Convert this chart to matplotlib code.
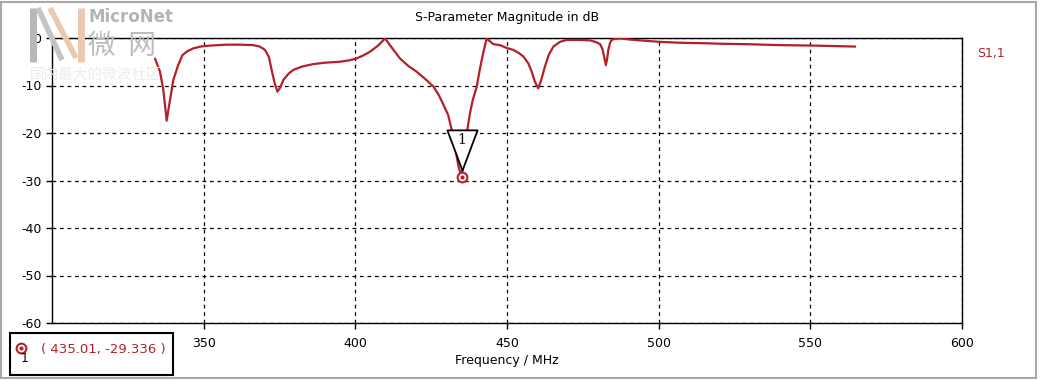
import matplotlib
matplotlib.use("Agg")
import matplotlib.pyplot as plt
import matplotlib.transforms as mtransforms
from matplotlib.path import Path
from matplotlib.patches import Rectangle
from matplotlib.lines import Line2D

# S1,1 magnitude (MHz, dB)
freq = [334.0, 335.6, 336.7, 337.8, 338.9, 340.0, 341.6, 343.0, 344.6, 346.5,
        349.0, 352.0, 357.6, 362.0, 366.3, 368.5, 370.2, 371.5, 372.4, 373.4,
        374.3, 375.2, 376.3, 378.0, 379.6, 382.5, 386.1, 390.0, 394.9, 398.0,
        400.4, 402.5, 404.8, 407.5, 409.8, 412.0, 414.7, 417.5, 420.2, 423.0,
        425.7, 427.5, 429.0, 430.6, 431.8, 433.0, 434.0, 435.01, 435.8, 436.9,
        437.8, 438.7, 440.0, 441.1, 442.2, 443.3, 445.5, 447.7, 449.9, 452.1,
        454.0, 455.4, 457.0, 458.1, 459.2, 460.3, 461.3, 462.5, 463.8, 465.3,
        467.5, 469.7, 474.0, 477.4, 479.5, 480.7, 481.5, 482.0, 482.6, 483.0,
        483.4, 484.0, 484.5, 485.5, 487.2, 490.0, 496.0, 500.0, 507.0, 515.0,
        520.0, 529.0, 540.0, 551.0, 558.0, 564.7]
s11 = [-4.4, -7.1, -10.9, -17.4, -13.1, -8.8, -5.7, -3.6, -2.8, -2.2,
       -1.8, -1.6, -1.4, -1.4, -1.5, -1.8, -2.5, -4.0, -6.7, -9.5,
       -11.3, -10.5, -8.8, -7.5, -6.7, -6.0, -5.5, -5.2, -5.0, -4.7,
       -4.3, -3.7, -2.9, -1.6, -0.1, -2.0, -4.3, -5.9, -7.1, -8.6,
       -10.2, -12.0, -14.0, -16.2, -19.4, -23.5, -27.0, -29.336, -25.5, -19.4,
       -15.8, -13.1, -10.3, -6.4, -3.0, -0.1, -1.3, -1.5, -2.1, -2.5,
       -3.2, -3.9, -5.3, -7.0, -9.2, -10.6, -8.8, -6.0, -3.5, -1.8,
       -0.8, -0.4, -0.4, -0.5, -0.9, -1.3, -2.4, -3.9, -5.7, -4.4,
       -2.5, -1.0, -0.4, -0.2, -0.1, -0.3, -0.6, -0.8, -1.0, -1.1,
       -1.2, -1.3, -1.5, -1.6, -1.7, -1.8]

marker_f, marker_db = 435.01, -29.336
xticks = [350, 400, 450, 500, 550, 600]
yticks = [0, -10, -20, -30, -40, -50, -60]

red = '#b3202a'
W, H = 1041, 380

fig = plt.figure(figsize=(W / 100, H / 100), dpi=100)
ax = fig.add_axes([52 / W, 1 - 323 / H, 910 / W, 285 / H])

ax.plot(freq, s11, color=red, lw=1.6, zorder=3)

ax.set_xlim(300, 600)
ax.set_ylim(-60, 0)
ax.set_xticks(xticks)
ax.set_yticks(yticks)
ax.set_yticklabels([str(v) for v in yticks])
ax.tick_params(direction='out', length=4, width=1, colors='black', labelsize=9)
ax.tick_params(axis='x', pad=6)
ax.grid(True, color='black', linestyle=(0, (3, 3)), linewidth=0.9)
for s in ax.spines.values():
    s.set_color('black')
    s.set_linewidth(1)

ax.set_title('S-Parameter Magnitude in dB', fontsize=9, pad=12)
ax.set_xlabel('Frequency / MHz', fontsize=9, labelpad=3)

# marker 1: triangle flag above the point, ring marker on the point
tri = Path([(-0.75, 1.0), (0.75, 1.0), (0.0, -1.0), (-0.75, 1.0)],
           [Path.MOVETO, Path.LINETO, Path.LINETO, Path.CLOSEPOLY])
up = mtransforms.offset_copy(ax.transData, fig=fig, x=0, y=27, units='dots')
ax.plot([marker_f], [marker_db], marker=tri, markersize=29, markerfacecolor='white',
        markeredgecolor='black', markeredgewidth=1.3, transform=up, zorder=5,
        clip_on=False)
up_txt = mtransforms.offset_copy(ax.transData, fig=fig, x=0, y=37, units='dots')
ax.text(marker_f, marker_db, '1', transform=up_txt, ha='center', va='center',
        fontsize=10, family='DejaVu Serif', zorder=6)
ax.plot([marker_f], [marker_db], marker='o', markersize=7, markerfacecolor='white',
        markeredgecolor=red, markeredgewidth=1.5, zorder=6)
ax.plot([marker_f], [marker_db], marker='o', markersize=2, color=red, zorder=7)

# series label on the right
fig.text(977 / W, 1 - 53 / H, 'S1,1', color=red, fontsize=9, va='center')

# marker readout box
fig.patches.append(Rectangle((10 / W, 1 - 375 / H), 163 / W, 42 / H,
                             transform=fig.transFigure, fill=False,
                             edgecolor='black', linewidth=1.5))
fig.lines.append(Line2D([21 / W], [1 - 348 / H], marker='o', markersize=7,
                        markerfacecolor='white', markeredgecolor=red,
                        markeredgewidth=1.5, transform=fig.transFigure))
fig.lines.append(Line2D([21 / W], [1 - 348 / H], marker='o', markersize=2,
                        color=red, transform=fig.transFigure))
fig.text(25 / W, 1 - 359 / H, '1', fontsize=9, ha='center', va='center')
fig.text(41 / W, 1 - 349 / H, '( %.2f, %.3f )' % (marker_f, marker_db),
         color=red, fontsize=9.5, va='center')

# faint MicroNet watermark (rough logo + text)
def wm_line(xs, ys, color, lw):
    fig.lines.append(Line2D([x / W for x in xs], [1 - y / H for y in ys],
                            color=color, lw=lw, solid_capstyle='butt',
                            transform=fig.transFigure, zorder=0))

wm_line([33, 33], [8, 62], '#b8b8b8', 5)
wm_line([38, 62], [8, 60], '#c4c4c4', 4)
wm_line([50, 76], [8, 58], '#ecc8ae', 4)
wm_line([81, 81], [8, 62], '#ecc8ae', 5)
fig.text(88 / W, 1 - 17 / H, 'MicroNet', color='#b4b4b4', fontsize=12,
         fontweight='bold', va='center')
fig.text(88 / W, 1 - 46 / H, '微  网', color='#bcbcbc', fontsize=20,
         family=['Noto Sans CJK SC', 'DejaVu Sans'], va='center')
fig.text(30 / W, 1 - 75 / H, '国内最大的微波社区', color='#ececec', fontsize=10.5,
         family=['Noto Sans CJK SC', 'DejaVu Sans'], va='center', zorder=0)

# light window frame
fig.patches.append(Rectangle((1 / W, 2 / H), 1035 / W, 376 / H,
                             transform=fig.transFigure, fill=False,
                             edgecolor='#a8a8a8', linewidth=1.5))

fig.savefig('out.png', dpi=100)
